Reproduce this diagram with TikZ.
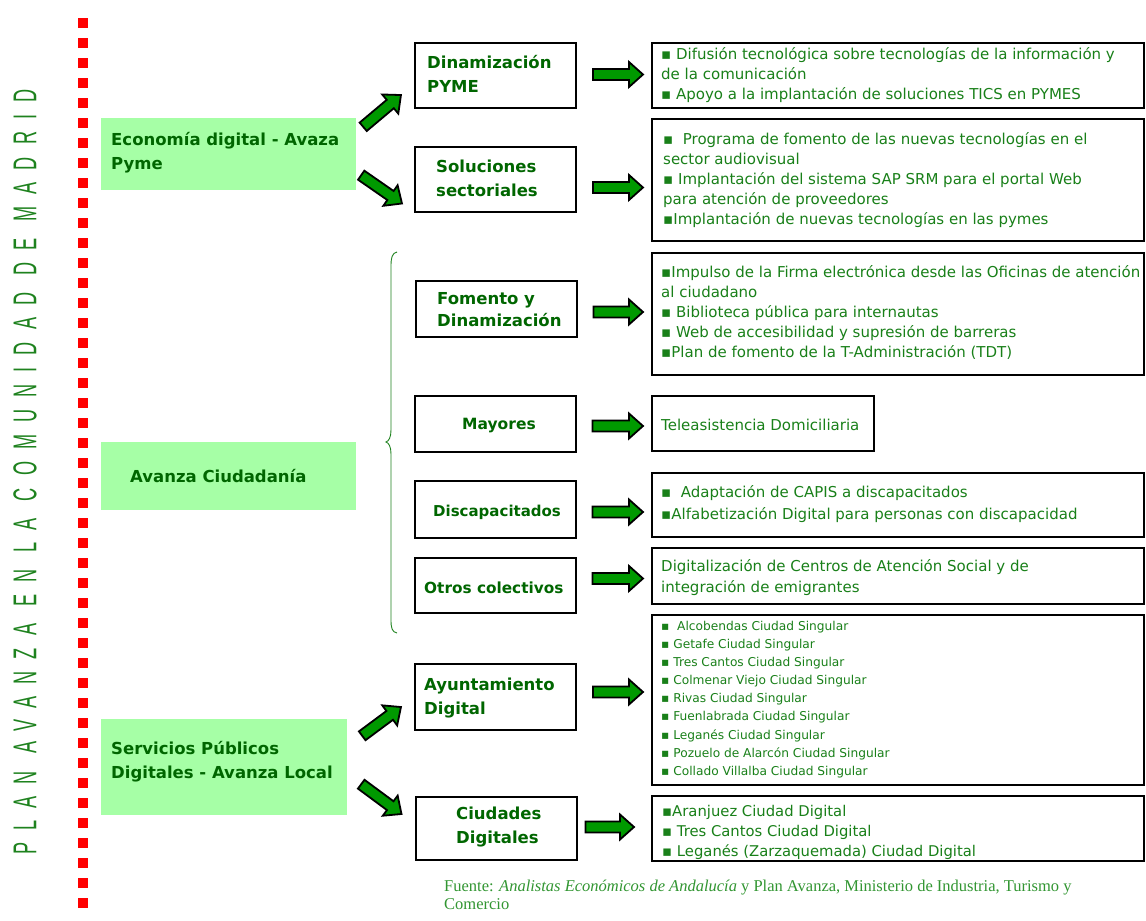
\documentclass[tikz,border=0pt]{standalone}
\usepackage{fontspec}
\setmainfont{DejaVu Sans}
\newfontfamily\vfont{Liberation Sans}[FakeStretch=0.55,LetterSpace=36.5]
\newfontfamily\srcfont{Liberation Serif}
\usetikzlibrary{calc}
\definecolor{lblgreen}{RGB}{0,102,0}
\definecolor{txtgreen}{RGB}{25,128,25}
\definecolor{boxfill}{RGB}{166,255,166}
\definecolor{arrgreen}{RGB}{0,153,0}
\definecolor{srcgreen}{RGB}{50,150,50}
\definecolor{vgreen}{RGB}{30,130,30}
\definecolor{dotred}{RGB}{255,0,0}
\newcommand\blkarrow[2]{%
  \path #1 coordinate (bA) #2 coordinate (bB);
  \path let \p1=(bA), \p2=(bB) in \pgfextra{%
      \pgfmathsetmacro\baang{atan2((\y2)-(\y1),(\x2)-(\x1))}%
      \pgfmathsetmacro\balen{veclen((\x2)-(\x1),(\y2)-(\y1))}%
      \xdef\baangG{\baang}\xdef\balenG{\balen}};
  \filldraw[blkarr, shift={(bA)}, rotate=\baangG] (0,5.5) -- (\balenG-14,5.5) -- (\balenG-14,12.5) -- (\balenG,0) -- (\balenG-14,-12.5) -- (\balenG-14,-5.5) -- (0,-5.5) -- cycle;
}
\begin{document}
\begin{tikzpicture}[x=1pt,y=-1pt,
  gbox/.style={fill=boxfill, draw=none, inner sep=0},
  mbox/.style={draw=black, line width=2pt, fill=white, inner sep=0, minimum width=161},
  rbox/.style={draw=black, line width=2pt, fill=white, inner sep=0, minimum width=492},
  lbl/.style={font=\bfseries\fontsize{16.5}{24}\selectfont, text=lblgreen, align=left, inner sep=0, anchor=west},
  itm/.style={font=\fontsize{15}{20}\selectfont, text=txtgreen, align=left, inner sep=0, anchor=west},
  blkarr/.style={fill=arrgreen, draw=black, line width=1.8pt, line join=miter},
  bracestyle/.style={draw=vgreen, line width=0.9pt},
  vtext/.style={rotate=90, font=\vfont\fontsize{33}{33}\selectfont, text=vgreen, inner sep=0},
  src/.style={font=\srcfont\fontsize{16.5}{18}\selectfont, text=srcgreen, align=left, inner sep=0}
]
\useasboundingbox (0,0) rectangle (1146,921);
\fill[white] (0,0) rectangle (1146,921);

% red dotted line
\foreach \k in {0,...,44} \fill[dotred] (78,{18+20*\k}) rectangle ++(10,10);

% vertical title
\node[vtext] (vt) at (25,472) {PLAN AVANZA EN LA COMUNIDAD DE MADRID};

% left green boxes
\node[gbox, minimum width=255, minimum height=72] (ea) at (228.5,154) {};
\node[lbl] (eat) at (111,153) {Economía digital - Avaza\\Pyme};
\node[gbox, minimum width=255, minimum height=68] (ac) at (228.5,476) {};
\node[lbl] (act) at (130,476) {Avanza Ciudadanía};
\node[gbox, minimum width=246, minimum height=96] (sp) at (224,767) {};
\node[lbl] (spt) at (111,762) {Servicios Públicos\\Digitales - Avanza Local};

% middle boxes
\node[mbox, minimum height=65] (dm) at (495.5,75.5) {};
\node[lbl] (dmt) at (427,74) {Dinamización\\PYME};
\node[mbox, minimum height=65] (ss) at (495.5,179.5) {};
\node[lbl] (sst) at (436,178) {Soluciones\\sectoriales};
\node[mbox, minimum height=56] (fd) at (496,309) {};
\node[lbl, font=\bfseries\fontsize{16.5}{22}\selectfont] (fdt) at (437,310) {Fomento y\\Dinamización};
\node[mbox, minimum height=56] (my) at (495,424) {};
\node[lbl, font=\bfseries\fontsize{15.5}{24}\selectfont] (myt) at (462,426) {Mayores};
\node[mbox, minimum height=57] (dc) at (495,509.5) {};
\node[lbl, font=\bfseries\fontsize{15}{24}\selectfont] (dct) at (433,512) {Discapacitados};
\node[mbox, minimum height=55] (oc) at (495,585.5) {};
\node[lbl, font=\bfseries\fontsize{15.3}{24}\selectfont] (oct) at (424,588) {Otros colectivos};
\node[mbox, minimum height=66] (ad) at (495.5,697) {};
\node[lbl] (adt) at (424,698) {Ayuntamiento\\Digital};
\node[mbox, minimum height=63] (cd) at (496,828.5) {};
\node[lbl] (cdt) at (456,827) {Ciudades\\Digitales};

% right boxes
\node[rbox, minimum height=65] (r1) at (898,75.5) {};
\node[itm] (r1t) at (661,75) {▪ Difusión tecnológica sobre tecnologías de la información y\\de la comunicación\\▪ Apoyo a la implantación de soluciones TICS en PYMES};
\node[rbox, minimum height=122] (r2) at (898,180) {};
\node[itm] (r2t) at (663,180) {▪~ Programa de fomento de las nuevas tecnologías en el\\sector audiovisual\\▪ Implantación del sistema SAP SRM para el portal Web\\para atención de proveedores\\▪Implantación de nuevas tecnologías en las pymes};
\node[rbox, minimum height=122] (r3) at (898,314) {};
\node[itm] (r3t) at (661,312.5) {▪Impulso de la Firma electrónica desde las Oficinas de atención\\al ciudadano\\▪ Biblioteca pública para internautas\\▪ Web de accesibilidad y supresión de barreras\\▪Plan de fomento de la T-Administración (TDT)};
\node[rbox, minimum width=222, minimum height=55] (r4) at (763,423.5) {};
\node[itm] (r4t) at (661,425) {Teleasistencia Domiciliaria};
\node[rbox, minimum height=64] (r5) at (898,505) {};
\node[itm, font=\fontsize{15}{22}\selectfont] (r5t) at (661,504) {▪~ Adaptación de CAPIS a discapacitados\\▪Alfabetización Digital para personas con discapacidad};
\node[rbox, minimum height=56] (r6) at (898,576) {};
\node[itm, font=\fontsize{15}{21}\selectfont] (r6t) at (661,577.5) {Digitalización de Centros de Atención Social y de\\integración de emigrantes};
\node[rbox, minimum height=170] (r7) at (898,700) {};
\node[itm, font=\fontsize{12.2}{18.1}\selectfont] (r7t) at (661,699.5) {▪~ Alcobendas Ciudad Singular\\▪ Getafe Ciudad Singular\\▪ Tres Cantos Ciudad Singular\\▪ Colmenar Viejo Ciudad Singular\\▪ Rivas Ciudad Singular\\▪ Fuenlabrada Ciudad Singular\\▪ Leganés Ciudad Singular\\▪ Pozuelo de Alarcón Ciudad Singular\\▪ Collado Villalba Ciudad Singular};
\node[rbox, minimum height=65] (r8) at (898,828.5) {};
\node[itm, font=\fontsize{14.8}{20}\selectfont] (r8t) at (662,832) {▪Aranjuez Ciudad Digital\\▪ Tres Cantos Ciudad Digital\\▪ Leganés (Zarzaquemada) Ciudad Digital};

% brace
\draw[bracestyle] (397,252) .. controls (392,253) and (391,258) .. (391,266) -- (391,430) .. controls (391,437) and (389,441) .. (386,442) .. controls (389,443) and (391,447) .. (391,454) -- (391,620) .. controls (391,628) and (392,632) .. (397,633);

% diagonal arrows
\blkarrow{($(ea.north east)+(7,9)$)}{($(dm.west)+(-13,19.5)$)}
\blkarrow{($(ea.south east)+(5,-15)$)}{($(ss.west)+(-12,24)$)}
\blkarrow{($(sp.north east)+(15,17)$)}{($(ad.west)+(-13,10)$)}
\blkarrow{($(sp.south east)+(14,-31)$)}{($(cd.west)+(-13,-14.5)$)}

% horizontal arrows
\blkarrow{($(dm.east)+(16,-1)$)}{($(r1.west)+(-8,-1)$)}
\blkarrow{($(ss.east)+(16,8)$)}{($(r2.west)+(-8,7.5)$)}
\blkarrow{($(fd.east)+(16,3)$)}{($(r3.west)+(-8,-2)$)}
\blkarrow{($(my.east)+(16,2)$)}{($(r4.west)+(-8,2.5)$)}
\blkarrow{($(dc.east)+(16,2.5)$)}{($(r5.west)+(-8,7)$)}
\blkarrow{($(oc.east)+(16,-7)$)}{($(r6.west)+(-8,2.5)$)}
\blkarrow{($(ad.east)+(16,-5)$)}{($(r7.west)+(-8,-8)$)}
\blkarrow{($(cd.east)+(8,-1.5)$)}{($(r8.west)+(-17,-1.5)$)}

% source
\node[src, anchor=north west] (srct) at (444,880) {Fuente: \textit{Analistas Económicos de Andalucía} y Plan Avanza, Ministerio de Industria, Turismo y\\Comercio};
\end{tikzpicture}
\end{document}
